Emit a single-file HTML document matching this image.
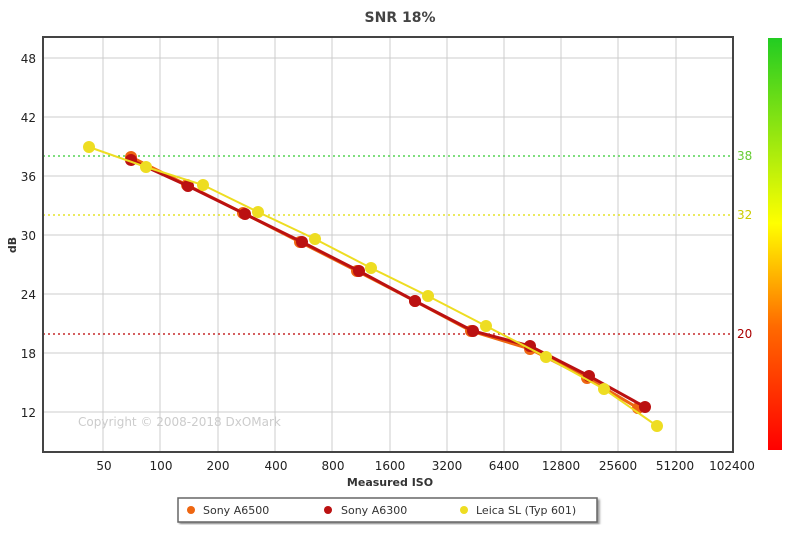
<!DOCTYPE html>
<html><head><style>
body{margin:0;background:#fff;width:800px;height:547px;overflow:hidden;font-family:Verdana,"DejaVu Sans",sans-serif}
</style></head><body>
<svg width="800" height="547" xmlns="http://www.w3.org/2000/svg" font-family="Verdana, 'DejaVu Sans', sans-serif">
<defs>
<linearGradient id="cb" x1="0" y1="1" x2="0" y2="0">
<stop offset="0" stop-color="#ff0000"/><stop offset="0.3" stop-color="#ff6a00"/><stop offset="0.55" stop-color="#ffff00"/><stop offset="1" stop-color="#22cc22"/>
</linearGradient>
<filter id="sh"><feDropShadow dx="2" dy="2" stdDeviation="1" flood-color="#999"/></filter>
</defs>
<text x="400" y="22" text-anchor="middle" font-size="14" font-weight="bold" fill="#444">SNR 18%</text>
<g stroke="#ccc" stroke-width="1">
<line x1="43" x2="733" y1="58" y2="58"/><line x1="43" x2="733" y1="117" y2="117"/><line x1="43" x2="733" y1="176" y2="176"/><line x1="43" x2="733" y1="235" y2="235"/><line x1="43" x2="733" y1="294" y2="294"/><line x1="43" x2="733" y1="353" y2="353"/><line x1="43" x2="733" y1="412" y2="412"/>
<line x1="103" x2="103" y1="37" y2="452"/><line x1="160" x2="160" y1="37" y2="452"/><line x1="218" x2="218" y1="37" y2="452"/><line x1="275" x2="275" y1="37" y2="452"/><line x1="332" x2="332" y1="37" y2="452"/><line x1="390" x2="390" y1="37" y2="452"/><line x1="447" x2="447" y1="37" y2="452"/><line x1="504" x2="504" y1="37" y2="452"/><line x1="561" x2="561" y1="37" y2="452"/><line x1="618" x2="618" y1="37" y2="452"/><line x1="676" x2="676" y1="37" y2="452"/>
</g>
<g stroke-width="1.2" stroke-dasharray="2,3">
<line x1="43" x2="733" y1="156" y2="156" stroke="#33cc33"/>
<line x1="43" x2="733" y1="215" y2="215" stroke="#dddd00"/>
<line x1="43" x2="733" y1="334" y2="334" stroke="#bb0000"/>
</g>
<rect x="43" y="37" width="690" height="415" fill="none" stroke="#444" stroke-width="2"/>
<g font-size="12" fill="#222" text-anchor="end">
<text x="36" y="63">48</text><text x="36" y="122">42</text><text x="36" y="181">36</text><text x="36" y="240">30</text><text x="36" y="299">24</text><text x="36" y="358">18</text><text x="36" y="417">12</text>
</g>
<g font-size="12" fill="#222" text-anchor="middle">
<text x="104" y="470">50</text><text x="161" y="470">100</text><text x="218" y="470">200</text><text x="276" y="470">400</text><text x="333" y="470">800</text><text x="390" y="470">1600</text><text x="447" y="470">3200</text><text x="504" y="470">6400</text><text x="561" y="470">12800</text><text x="618" y="470">25600</text><text x="675" y="470">51200</text><text x="732" y="470">102400</text>
</g>
<text x="390" y="486" text-anchor="middle" font-size="11" font-weight="bold" fill="#333">Measured ISO</text>
<text x="16" y="245" text-anchor="middle" font-size="11" font-weight="bold" fill="#333" transform="rotate(-90 16 245)">dB</text>
<text x="737" y="160" font-size="12" fill="#66cc33">38</text>
<text x="737" y="219" font-size="12" fill="#cccc00">32</text>
<text x="737" y="338" font-size="12" fill="#aa0000">20</text>
<rect x="768" y="38" width="14" height="412" fill="url(#cb)"/>
<text x="78" y="426" font-size="12" fill="#ccc">Copyright © 2008-2018 DxOMark</text>
<polyline fill="none" stroke="#ee6611" stroke-width="3" points="131,157 187,185 243,213 300,242 357,271 415,301 471,331 530,349 587,378 638,408"/>
<g fill="#ee6611"><circle cx="131" cy="157" r="6"/><circle cx="187" cy="185" r="6"/><circle cx="243" cy="213" r="6"/><circle cx="300" cy="242" r="6"/><circle cx="357" cy="271" r="6"/><circle cx="415" cy="301" r="6"/><circle cx="471" cy="331" r="6"/><circle cx="530" cy="349" r="6"/><circle cx="587" cy="378" r="6"/><circle cx="638" cy="408" r="6"/></g>
<polyline fill="none" stroke="#bb1111" stroke-width="3" points="131,160 188,186 245,214 302,242 359,271 415,301 473,331 530,346 589,376 645,407"/>
<g fill="#bb1111"><circle cx="131" cy="160" r="6"/><circle cx="188" cy="186" r="6"/><circle cx="245" cy="214" r="6"/><circle cx="302" cy="242" r="6"/><circle cx="359" cy="271" r="6"/><circle cx="415" cy="301" r="6"/><circle cx="473" cy="331" r="6"/><circle cx="530" cy="346" r="6"/><circle cx="589" cy="376" r="6"/><circle cx="645" cy="407" r="6"/></g>
<polyline fill="none" stroke="#eedd22" stroke-width="2" points="89,147 146,167 203,185 258,212 315,239 371,268 428,296 486,326 546,357 604,389 657,426"/>
<g fill="#eedd22"><circle cx="89" cy="147" r="6"/><circle cx="146" cy="167" r="6"/><circle cx="203" cy="185" r="6"/><circle cx="258" cy="212" r="6"/><circle cx="315" cy="239" r="6"/><circle cx="371" cy="268" r="6"/><circle cx="428" cy="296" r="6"/><circle cx="486" cy="326" r="6"/><circle cx="546" cy="357" r="6"/><circle cx="604" cy="389" r="6"/><circle cx="657" cy="426" r="6"/></g>
<rect x="178" y="498" width="419" height="24" fill="#fff" stroke="#666" stroke-width="1.5" filter="url(#sh)"/>
<g font-size="11" fill="#333">
<circle cx="191" cy="510" r="4" fill="#ee6611"/><text x="203" y="514">Sony A6500</text>
<circle cx="328" cy="510" r="4" fill="#bb1111"/><text x="341" y="514">Sony A6300</text>
<circle cx="464" cy="510" r="4" fill="#eedd22"/><text x="476" y="514">Leica SL (Typ 601)</text>
</g>
</svg>
</body></html>
